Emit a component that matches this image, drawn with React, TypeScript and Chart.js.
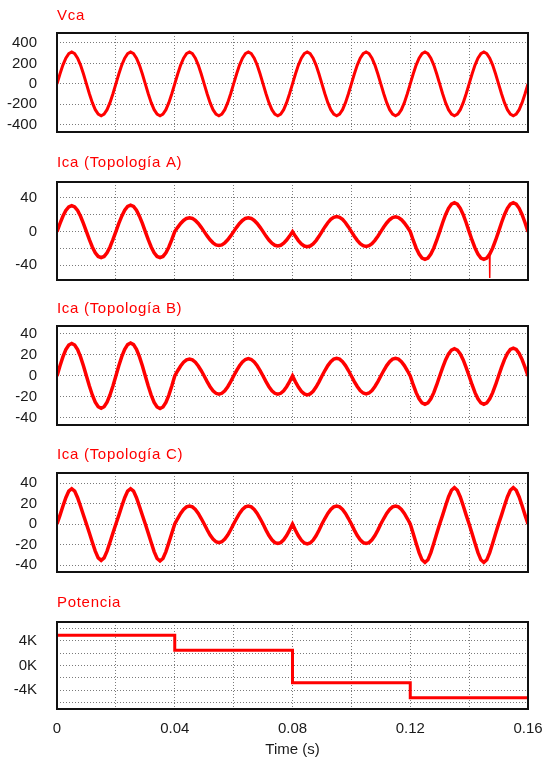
import React, { useEffect, useRef } from 'react';
import { Chart, registerables } from 'chart.js';

Chart.register(...registerables);

// ---------- data ----------
const TIME_STEP = 0.001; // s between samples
const X_MIN = 0;
const X_MAX = 0.16;
const xGridTicks = [0, 0.02, 0.04, 0.06, 0.08, 0.1, 0.12, 0.14, 0.16];
const xLabelTicks = [0, 0.04, 0.08, 0.12, 0.16];
const xLabelTexts = ['0', '0.04', '0.08', '0.12', '0.16'];

const vcaValues = [
  0, 96, 183, 252, 296, 311, 296, 252, 183, 96, 0, -96, -183, -252, -296, -311, -296, -252, -183, -96,
  0, 96, 183, 252, 296, 311, 296, 252, 183, 96, 0, -96, -183, -252, -296, -311, -296, -252, -183, -96,
  0, 96, 183, 252, 296, 311, 296, 252, 183, 96, 0, -96, -183, -252, -296, -311, -296, -252, -183, -96,
  0, 96, 183, 252, 296, 311, 296, 252, 183, 96, 0, -96, -183, -252, -296, -311, -296, -252, -183, -96,
  0, 96, 183, 252, 296, 311, 296, 252, 183, 96, 0, -96, -183, -252, -296, -311, -296, -252, -183, -96,
  0, 96, 183, 252, 296, 311, 296, 252, 183, 96, 0, -96, -183, -252, -296, -311, -296, -252, -183, -96,
  0, 96, 183, 252, 296, 311, 296, 252, 183, 96, 0, -96, -183, -252, -296, -311, -296, -252, -183, -96,
  0, 96, 183, 252, 296, 311, 296, 252, 183, 96, 0, -96, -183, -252, -296, -311, -296, -252, -183, -96,
  0,
];

const icaAValues = [
  0, 9.6, 18.2, 25.1, 29.5, 31, 29.5, 25.1, 18.2, 9.6, 0, -9.6, -18.2, -25.1, -29.5, -31, -29.5, -25.1, -18.2, -9.6,
  0, 9.7, 18.4, 25.4, 29.9, 31.5, 29.9, 25.4, 18.4, 9.7, 0, -9.6, -18.2, -25.1, -29.5, -31, -29.5, -25.1, -18.2, -9.6,
  0, 5.1, 9.7, 13.3, 15.7, 16.5, 15.7, 13.3, 9.7, 5.1, 0, -5.1, -9.7, -13.3, -15.7, -16.5, -15.7, -13.3, -9.7, -5.1,
  0, 5.1, 9.7, 13.3, 15.7, 16.5, 15.7, 13.3, 9.7, 5.1, 0, -5.3, -10, -13.8, -16.2, -17, -16.2, -13.8, -10, -5.3,
  0, -5.6, -10.6, -14.6, -17.1, -18, -17.1, -14.6, -10.6, -5.6, 0, 5.6, 10.6, 14.6, 17.1, 18, 17.1, 14.6, 10.6, 5.6,
  0, -5.4, -10.3, -14.2, -16.6, -17.5, -16.6, -14.2, -10.3, -5.4, 0, 5.4, 10.3, 14.2, 16.6, 17.5, 16.6, 14.2, 10.3, 5.4,
  0, -10.2, -19.4, -26.7, -31.4, -33, -31.4, -26.7, -19.4, -10.2, 0, 10.6, 20.1, 27.7, 32.6, 34.3, 32.6, 27.7, 20.1, 10.6,
  0, -10.2, -19.4, -26.7, -31.4, -33, -31.4, -26.7, -19.4, -10.2, 0, 10.6, 20.1, 27.7, 32.6, 34.3, 32.6, 27.7, 20.1, 10.6,
  0,
];
const icaASpikeTimes = [0.1469, 0.147, 0.1471];
const icaASpikeValues = [-27, -55, -26.5];

const icaBValues = [
  0, 9.6, 18.2, 25.1, 29.5, 31, 29.5, 25.1, 18.2, 9.6, 0, -9.5, -18.1, -24.9, -29.3, -30.8, -29.3, -24.9, -18.1, -9.5,
  0, 9.7, 18.4, 25.4, 29.9, 31.4, 29.9, 25.4, 18.4, 9.7, 0, -9.6, -18.2, -25.1, -29.5, -31, -29.5, -25.1, -18.2, -9.6,
  0, 5, 9.5, 13.1, 15.4, 16.2, 15.4, 13.1, 9.5, 5, 0, -5.4, -10.2, -14.1, -16.5, -17.4, -16.5, -14.1, -10.2, -5.4,
  0, 5.1, 9.7, 13.3, 15.7, 16.5, 15.7, 13.3, 9.7, 5.1, 0, -5.4, -10.2, -14.1, -16.5, -17.4, -16.5, -14.1, -10.2, -5.4,
  0, -5.6, -10.6, -14.6, -17.1, -18, -17.1, -14.6, -10.6, -5.6, 0, 5.2, 9.9, 13.6, 16, 16.8, 16, 13.6, 9.9, 5.2,
  0, -5.3, -10, -13.8, -16.2, -17, -16.2, -13.8, -10, -5.3, 0, 5.2, 9.9, 13.6, 16, 16.8, 16, 13.6, 9.9, 5.2,
  0, -8.3, -15.9, -21.8, -25.7, -27, -25.7, -21.8, -15.9, -8.3, 0, 8, 15.3, 21, 24.7, 26, 24.7, 21, 15.3, 8,
  0, -8.3, -15.9, -21.8, -25.7, -27, -25.7, -21.8, -15.9, -8.3, 0, 8.2, 15.6, 21.4, 25.2, 26.5, 25.2, 21.4, 15.6, 8.2,
  0,
];

const icaCValues = [
  0, 8.5, 17.3, 25.7, 32.1, 34.5, 32.1, 25.7, 17.3, 8.5, 0, -8.7, -17.8, -26.4, -33, -35.5, -33, -26.4, -17.8, -8.7,
  0, 8.5, 17.3, 25.7, 32.1, 34.5, 32.1, 25.7, 17.3, 8.5, 0, -8.9, -18.1, -26.9, -33.6, -36, -33.6, -26.9, -18.1, -8.9,
  0, 5.4, 10.3, 14.2, 16.7, 17.6, 16.7, 14.2, 10.3, 5.4, 0, -5.6, -10.7, -14.7, -17.3, -18.2, -17.3, -14.7, -10.7, -5.6,
  0, 5.4, 10.3, 14.2, 16.7, 17.6, 16.7, 14.2, 10.3, 5.4, 0, -5.9, -11.2, -15.4, -18.1, -19, -18.1, -15.4, -11.2, -5.9,
  0, -6, -11.5, -15.8, -18.5, -19.5, -18.5, -15.8, -11.5, -6, 0, 5.4, 10.3, 14.2, 16.7, 17.6, 16.7, 14.2, 10.3, 5.4,
  0, -5.9, -11.2, -15.4, -18.1, -19, -18.1, -15.4, -11.2, -5.9, 0, 5.4, 10.3, 14.2, 16.7, 17.6, 16.7, 14.2, 10.3, 5.4,
  0, -9.2, -18.8, -27.9, -34.9, -37.5, -34.9, -27.9, -18.8, -9.2, 0, 8.7, 17.8, 26.4, 33, 35.5, 33, 26.4, 17.8, 8.7,
  0, -9.2, -18.8, -27.9, -34.9, -37.5, -34.9, -27.9, -18.8, -9.2, 0, 8.7, 17.8, 26.4, 33, 35.5, 33, 26.4, 17.8, 8.7,
  0,
];

const powerTimes = [0, 0.04, 0.08, 0.12, 0.16];
const powerValues = [4850, 2450, -2770, -5170, -5170];

// y-axis grids / labels
const vcaGrid = [-400, -200, 0, 200, 400];
const vcaLabelVals = [-400, -200, 0, 200, 400];
const vcaLabelTexts = ['-400', '-200', '0', '200', '400'];
const icaAGrid = [-40, -20, 0, 20, 40];
const icaALabelVals = [-40, 0, 40];
const icaALabelTexts = ['-40', '0', '40'];
const icaBCGrid = [-40, -20, 0, 20, 40];
const icaBCLabelVals = [-40, -20, 0, 20, 40];
const icaBCLabelTexts = ['-40', '-20', '0', '20', '40'];
const powerGrid = [-6000, -4000, -2000, 0, 2000, 4000, 6000];
const powerLabelVals = [-4000, 0, 4000];
const powerLabelTexts = ['-4K', '0K', '4K'];

// ---------- chart helpers ----------
const FONT = "'Liberation Sans', Arial, Helvetica, sans-serif";
const RED = '#ff0000';
const GRID_COLOR = '#7a7a7a';
const TEXT_COLOR = '#1a1a1a';

const toSeries = (vals: number[]) => vals.map((v, i) => ({ x: i * TIME_STEP, y: v }));
const zipSeries = (ts: number[], vs: number[]) => ts.map((t, i) => ({ x: t, y: vs[i] }));

const labelFor = (vals: number[], texts: string[]) => (value: any) => {
  const v = Number(value);
  const idx = vals.findIndex((lv) => Math.abs(lv - v) < 1e-9);
  return idx >= 0 ? texts[idx] : '';
};

const framePlugin = {
  id: 'frame',
  afterDraw(chart: any, _args: any, opts: any) {
    const { ctx, chartArea } = chart;
    const { left, top, right, bottom } = chartArea;
    ctx.save();
    ctx.strokeStyle = '#111';
    ctx.lineWidth = 2;
    ctx.setLineDash([]);
    ctx.strokeRect(left, top, right - left, bottom - top);
    ctx.fillStyle = RED;
    ctx.font = `15px ${FONT}`;
    ctx.textBaseline = 'middle';
    ctx.textAlign = 'left';
    try {
      (ctx as any).letterSpacing = '0.7px';
    } catch (e) {
      /* ignore */
    }
    ctx.fillText(opts.text, left, top - opts.offset);
    ctx.restore();
  },
};

type Panel = {
  title: string;
  titleOffset: number;
  boxTop: number;
  boxBottom: number;
  yMin: number;
  yMax: number;
  yGrid: number[];
  yLabelVals: number[];
  yLabelTexts: string[];
  datasets: any[];
  bottomAxis?: boolean;
};

const PAD_TOP = 30;
const PAD_BOTTOM = 10;

function PanelChart({ p }: { p: Panel }) {
  const ref = useRef<HTMLCanvasElement | null>(null);
  const canvasTop = p.boxTop - PAD_TOP;
  const height = p.bottomAxis ? 760 - canvasTop : p.boxBottom - p.boxTop + PAD_TOP + PAD_BOTTOM;

  useEffect(() => {
    if (!ref.current) return;
    const tickFont = { family: FONT, size: 15 };
    const chart = new Chart(ref.current, {
      type: 'line',
      data: { datasets: p.datasets },
      plugins: [framePlugin],
      options: {
        animation: false,
        responsive: false,
        maintainAspectRatio: false,
        events: [],
        layout: { padding: { top: PAD_TOP, left: 0, right: 15, bottom: p.bottomAxis ? 0 : PAD_BOTTOM } },
        plugins: {
          legend: { display: false },
          tooltip: { enabled: false },
          title: { display: false },
          frame: { text: p.title, offset: p.titleOffset },
        } as any,
        scales: {
          x: {
            type: 'linear',
            min: X_MIN,
            max: X_MAX,
            afterBuildTicks: (s: any) => {
              s.ticks = xGridTicks.map((v) => ({ value: v }));
            },
            afterFit: (s: any) => {
              s.height = p.bottomAxis ? 51 : 0;
              s.paddingLeft = 0;
              s.paddingRight = 0;
            },
            grid: { color: GRID_COLOR, lineWidth: 1, drawTicks: false },
            border: { display: false, dash: [1, 2] },
            ticks: {
              display: !!p.bottomAxis,
              autoSkip: false,
              maxRotation: 0,
              padding: 11,
              color: TEXT_COLOR,
              font: tickFont,
              callback: labelFor(xLabelTicks, xLabelTexts),
            },
            title: {
              display: !!p.bottomAxis,
              text: 'Time (s)',
              color: TEXT_COLOR,
              font: tickFont,
              padding: { top: 0, bottom: 1 },
            },
          },
          y: {
            type: 'linear',
            min: p.yMin,
            max: p.yMax,
            afterBuildTicks: (s: any) => {
              s.ticks = p.yGrid.map((v) => ({ value: v }));
            },
            afterFit: (s: any) => {
              s.width = 57;
              s.paddingTop = 0;
              s.paddingBottom = 0;
            },
            grid: { color: GRID_COLOR, lineWidth: 1, drawTicks: false },
            border: { display: false, dash: [1, 2] },
            ticks: {
              autoSkip: false,
              padding: 20,
              color: TEXT_COLOR,
              font: tickFont,
              callback: labelFor(p.yLabelVals, p.yLabelTexts),
            },
          },
        },
      } as any,
    });
    return () => chart.destroy();
  }, []);

  return (
    <canvas
      ref={ref}
      width={543}
      height={height}
      style={{ position: 'absolute', left: 0, top: canvasTop, width: 543, height }}
    />
  );
}

const lineStyle = (w: number) => ({
  borderColor: RED,
  borderWidth: w,
  pointRadius: 0,
  tension: 0,
  fill: false,
});

const panels: Panel[] = [
  {
    title: 'Vca', titleOffset: 17, boxTop: 33, boxBottom: 132, yMin: -470, yMax: 497,
    yGrid: vcaGrid, yLabelVals: vcaLabelVals, yLabelTexts: vcaLabelTexts,
    datasets: [{ data: toSeries(vcaValues), ...lineStyle(3) }],
  },
  {
    title: 'Ica (Topología A)', titleOffset: 19, boxTop: 182, boxBottom: 280, yMin: -57.5, yMax: 59,
    yGrid: icaAGrid, yLabelVals: icaALabelVals, yLabelTexts: icaALabelTexts,
    datasets: [
      { data: toSeries(icaAValues), ...lineStyle(3.5) },
      { data: zipSeries(icaASpikeTimes, icaASpikeValues), ...lineStyle(1.5) },
    ],
  },
  {
    title: 'Ica (Topología B)', titleOffset: 17, boxTop: 326, boxBottom: 425, yMin: -46.7, yMax: 47.6,
    yGrid: icaBCGrid, yLabelVals: icaBCLabelVals, yLabelTexts: icaBCLabelTexts,
    datasets: [{ data: toSeries(icaBValues), ...lineStyle(3.5) }],
  },
  {
    title: 'Ica (Topología C)', titleOffset: 18, boxTop: 473, boxBottom: 572, yMin: -46.8, yMax: 49.8,
    yGrid: icaBCGrid, yLabelVals: icaBCLabelVals, yLabelTexts: icaBCLabelTexts,
    datasets: [{ data: toSeries(icaCValues), ...lineStyle(3.5) }],
  },
  {
    title: 'Potencia', titleOffset: 19, boxTop: 622, boxBottom: 709, yMin: -7000, yMax: 7000,
    yGrid: powerGrid, yLabelVals: powerLabelVals, yLabelTexts: powerLabelTexts,
    datasets: [{ data: zipSeries(powerTimes, powerValues), ...lineStyle(3), stepped: 'before' }],
    bottomAxis: true,
  },
];

export default function App() {
  return (
    <div style={{ position: 'absolute', left: 0, top: 0, width: 543, height: 760, background: '#fff', overflow: 'hidden' }}>
      {panels.map((p, i) => (
        <PanelChart key={i} p={p} />
      ))}
    </div>
  );
}
